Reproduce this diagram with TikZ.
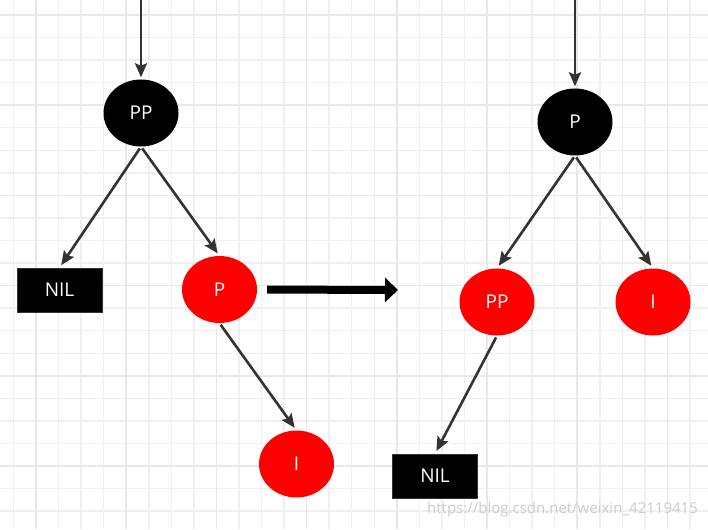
\documentclass[tikz,border=0pt]{standalone}
\usepackage{fontspec}
\usetikzlibrary{arrows.meta,shapes.geometric,positioning}
\newfontfamily\nodefont{Open Sans}
\definecolor{gridminor}{HTML}{F0F0F0}
\definecolor{gridmajor}{HTML}{E8E8E8}
\definecolor{edgegray}{HTML}{333333}
\definecolor{rbred}{HTML}{FF0000}

\begin{document}
\begin{tikzpicture}[
	x=1pt,y=-1pt,
	rbnode/.style={ellipse,minimum width=75pt,minimum height=67pt,inner sep=0pt,text=white,font=\nodefont\fontsize{19}{21}\selectfont},
	blacknode/.style={rbnode,fill=black},
	rednode/.style={rbnode,fill=rbred},
	nilbox/.style={draw=edgegray,line width=0.6pt,fill=black,minimum width=85pt,minimum height=44pt,inner sep=0pt,text=white,font=\nodefont\fontsize{19}{21}\selectfont},
	link/.style={-{Stealth[length=14pt,width=12pt,inset=2.5pt]},line width=2.6pt,edgegray,shorten >=3pt,shorten <=2pt}
	]
	
	% Sfondo e griglia
	\useasboundingbox (0,0) rectangle (708,529);
	\fill[white] (0,0) rectangle (708,529);
	\foreach \k in {0,...,30} {
		\draw[gridminor,line width=1.5pt] ({13.45+22.55*\k},0) -- ({13.45+22.55*\k},529);
	}
	\foreach \k in {0,...,23} {
		\draw[gridminor,line width=1.5pt] (0,{15+22.55*\k}) -- (708,{15+22.55*\k});
	}
	\foreach \k in {0,...,7} {
		\draw[gridmajor,line width=1.5pt] ({36+90.2*\k},0) -- ({36+90.2*\k},529);
	}
	\foreach \k in {0,...,5} {
		\draw[gridmajor,line width=1.5pt] (0,{15+90.2*\k}) -- (708,{15+90.2*\k});
	}
	
	% Albero prima della rotazione
	\node[blacknode] (ppl) at (141,113) {PP};
	\node[nilbox] (nill) at (59.5,290) {NIL};
	\node[rednode] (pl) at (219.5,289.5) {P};
	\node[rednode] (il) at (296.5,464) {I};
	\coordinate (topl) at (141,0);
	
	\draw[link,shorten <=0pt,shorten >=2pt] (topl) -- (ppl.north);
	\draw[link] (ppl.south) -- (nill.north);
	\draw[link] (ppl.south) -- (pl.north);
	\draw[link] (pl.south) -- (il.north);
	
	% Freccia di rotazione
	\coordinate (rotend) at (398,290);
	\draw[-{Triangle[length=13pt,width=24pt]},line width=8pt,black,shorten <=10pt] (pl.east) -- (rotend);
	
	% Albero dopo la rotazione
	\node[blacknode] (pr) at (575,122) {P};
	\node[rednode] (ppr) at (497,302) {PP};
	\node[rednode] (ir) at (653,302) {I};
	\node[nilbox] (nilr) at (435,476) {NIL};
	\coordinate (topr) at (575,0);
	
	\draw[link,shorten <=0pt,shorten >=2pt] (topr) -- (pr.north);
	\draw[link] (pr.south) -- (ppr.north);
	\draw[link] (pr.south) -- (ir.north);
	\draw[link] (ppr.south) -- (nilr.north);
	
	% Filigrana
	\node[anchor=east,text=black!20,font=\nodefont\fontsize{15}{17}\selectfont,inner sep=0pt] (mark) at (698,510) {https://blog.csdn.net/weixin\_42119415};
	
\end{tikzpicture}
\end{document}
